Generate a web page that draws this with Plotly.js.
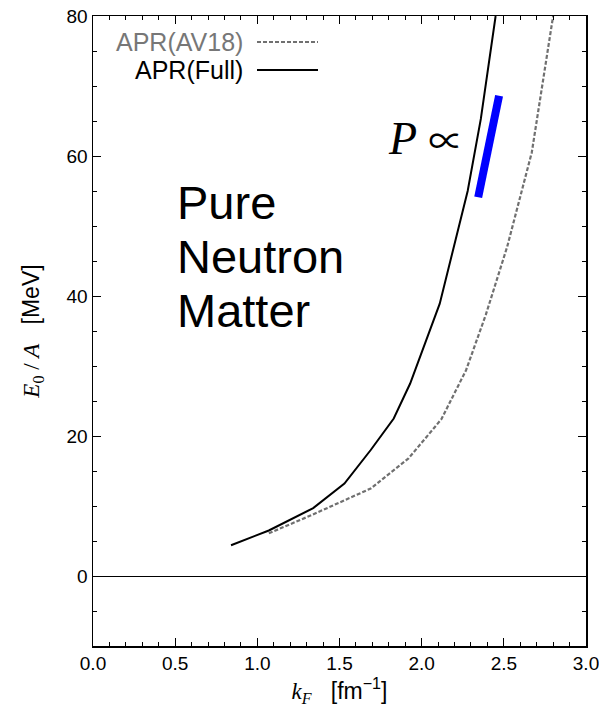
<!DOCTYPE html>
<html>
<head>
<meta charset="utf-8">
<script src="https://cdn.plot.ly/plotly-3.0.1.min.js"></script>
<style>html,body{margin:0;padding:0;background:#fff;}#chart{width:599px;height:710px;}</style>
</head>
<body>
<div id="chart"></div>
<script>
// APR(Full) — solid black
const kF_full = [0.84, 1.07, 1.34, 1.53, 1.69, 1.83, 1.93, 2.11, 2.28, 2.36, 2.45];
const E_full  = [4.4, 6.5, 9.7, 13.2, 18.0, 22.5, 27.5, 38.9, 55.0, 65.3, 80.0];
// APR(AV18) — dashed gray
const kF_av18 = [1.07, 1.33, 1.69, 1.92, 2.12, 2.27, 2.39, 2.52, 2.67, 2.80];
const E_av18  = [6.1, 8.7, 12.5, 16.8, 22.4, 29.4, 37.3, 47.0, 60.5, 80.0];
// Blue slope marker
const kF_slope = [2.344, 2.471];
const E_slope  = [54.1, 68.6];

const legendLabels = ["APR(AV18)", "APR(Full)"];
const textLines = ["Pure", "Neutron", "Matter"];

const SANS = "Liberation Sans, Arial, sans-serif";
const SERIF = "Liberation Serif, Times New Roman, serif";

const traces = [
  {x: kF_av18, y: E_av18, mode: "lines", line: {color: "#707070", width: 2.2, dash: "4px,2px"}, showlegend: false, hoverinfo: "skip"},
  {x: kF_full, y: E_full, mode: "lines", line: {color: "#000000", width: 2}, showlegend: false, hoverinfo: "skip"},
  {x: kF_slope, y: E_slope, mode: "lines", line: {color: "#0000ff", width: 8}, showlegend: false, hoverinfo: "skip"}
];

const W = 493, H = 630, L = 93, T = 16;
const px = p => (p - L) / W;
const py = p => 1 - (p - T) / H;

const annotations = [
  {xref: "paper", yref: "paper", x: px(245), y: py(42), xanchor: "right", yanchor: "middle", showarrow: false,
   text: legendLabels[0], font: {family: SANS, size: 25, color: "#777777"}},
  {xref: "paper", yref: "paper", x: px(245), y: py(70), xanchor: "right", yanchor: "middle", showarrow: false,
   text: legendLabels[1], font: {family: SANS, size: 25, color: "#000000"}},
  {xref: "paper", yref: "paper", x: px(175), y: py(202), xanchor: "left", yanchor: "middle", showarrow: false,
   text: textLines[0], font: {family: SANS, size: 47, color: "#000000"}},
  {xref: "paper", yref: "paper", x: px(175), y: py(256), xanchor: "left", yanchor: "middle", showarrow: false,
   text: textLines[1], font: {family: SANS, size: 47, color: "#000000"}},
  {xref: "paper", yref: "paper", x: px(175), y: py(310), xanchor: "left", yanchor: "middle", showarrow: false,
   text: textLines[2], font: {family: SANS, size: 47, color: "#000000"}},
  {xref: "paper", yref: "paper", x: px(386), y: py(138), xanchor: "left", yanchor: "middle", showarrow: false,
   text: "<i>P</i> <span style=\"font-family:'Noto Sans CJK JP';font-size:35px\">∝</span>", font: {family: SERIF, size: 46, color: "#000000"}}
];

const shapes = [
  {type: "line", xref: "paper", yref: "paper", x0: px(257), x1: px(318), y0: py(42), y1: py(42),
   line: {color: "#707070", width: 2.2, dash: "4px,2px"}},
  {type: "line", xref: "paper", yref: "paper", x0: px(257), x1: px(318), y0: py(70), y1: py(70),
   line: {color: "#000000", width: 2}}
];

const layout = {
  width: 599, height: 710,
  margin: {l: L, r: 599 - L - W, t: T, b: 710 - T - H, pad: 0},
  paper_bgcolor: "#ffffff", plot_bgcolor: "#ffffff",
  showlegend: false,
  font: {family: SANS, size: 19, color: "#000"},
  xaxis: {
    range: [0, 3], dtick: 0.5, tick0: 0, tickformat: ".1f",
    ticks: "inside", ticklen: 8, tickwidth: 1, tickcolor: "#000",
    minor: {dtick: 0.1, ticks: "inside", ticklen: 4, tickwidth: 1, tickcolor: "#000"},
    showline: true, linecolor: "#000", linewidth: 1.5, mirror: "ticks",
    showgrid: false, zeroline: false, ticklabeloverflow: "allow",
    tickfont: {family: SANS, size: 19},
    title: {text: "<span style=\"font-family:'Liberation Serif'\"><i>k<sub>F</sub></i></span>   [fm<sup>−1</sup>]",
            font: {family: SANS, size: 23}, standoff: 7}
  },
  yaxis: {
    range: [-10, 80], dtick: 20, tick0: 0,
    ticks: "inside", ticklen: 8, tickwidth: 1, tickcolor: "#000",
    minor: {dtick: 5, ticks: "inside", ticklen: 4, tickwidth: 1, tickcolor: "#000"},
    showline: true, linecolor: "#000", linewidth: 1.5, mirror: "ticks",
    showgrid: false,
    zeroline: true, zerolinecolor: "#000", zerolinewidth: 1,
    tickfont: {family: SANS, size: 19},
    title: {text: "<span style=\"font-family:'Liberation Serif'\"><i>E</i><sub>0</sub> / <i>A</i></span>   [MeV]",
            font: {family: SANS, size: 23}, standoff: 20}
  },
  annotations: annotations,
  shapes: shapes
};

Plotly.newPlot("chart", traces, layout, {displayModeBar: false, staticPlot: true});
</script>
</body>
</html>
